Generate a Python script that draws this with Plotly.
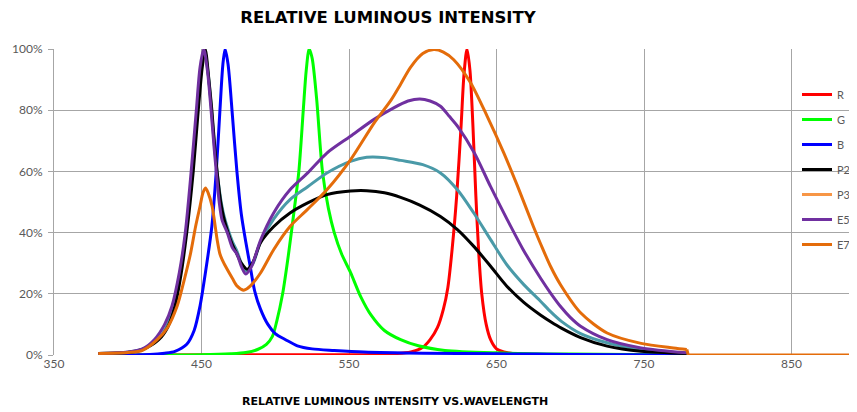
import plotly.graph_objects as go

# ---- data (wavelength nm, relative intensity %) ----
R_wl = [380, 560, 580, 592, 600, 605, 610, 614, 617, 620, 623, 626, 628, 630, 632, 634, 636, 638, 640, 643, 646, 650, 655, 665, 690, 780]
R_val = [0, 0.1, 0.4, 1, 2.5, 5, 9, 15, 22, 35, 52, 75, 92, 100, 93, 75, 52, 33, 20, 10, 5, 2, 1, 0.3, 0.1, 0]

G_wl = [380, 450, 470, 480, 488, 494, 498, 501, 505, 509, 513, 516, 519, 521, 523, 525, 528, 532, 536, 540, 545, 551, 558, 565, 574, 585, 597, 615, 650, 700, 780]
G_val = [0, 0.1, 0.4, 0.8, 1.8, 3.5, 6, 11, 20, 33, 48, 60, 80, 93, 100, 97, 84, 60, 48, 40, 33, 27, 19, 13, 8, 5, 3, 1.5, 0.7, 0.3, 0]

B_wl = [380, 415, 425, 432, 440, 445, 449, 453, 457, 460, 462.5, 464.5, 466, 468, 471, 474, 477, 480, 483, 486, 490, 495, 500, 507, 515, 525, 540, 560, 600, 650, 700, 780]
B_val = [0, 0.2, 0.6, 1.2, 3.5, 8, 16, 28, 42, 60, 80, 95, 100, 95, 78, 60, 46, 37, 29, 21, 15, 10, 7, 5, 3, 2, 1.5, 1, 0.6, 0.4, 0.2, 0]

P2_wl = [380, 400, 410, 421, 427, 432, 436, 440, 444.4, 447.8, 450.5, 452.5, 455, 457, 459, 461, 463, 465, 468, 471, 474, 477, 481, 485, 490, 499, 510, 522, 535, 551, 562, 574, 585, 598, 612, 623.5, 634.6, 646, 657, 668.5, 680, 687, 694, 707, 725, 748, 779]
P2_val = [0.5, 0.8, 1.8, 5, 9, 16, 26, 40, 60, 80, 94, 100, 90, 80, 68, 58, 50, 45, 40, 36, 33, 30, 28, 30.5, 36.7, 42, 46.4, 49.7, 52.4, 53.6, 53.7, 53, 51.5, 49, 45.3, 41, 35.5, 29, 22.5, 17.2, 13, 10.8, 8.8, 5.7, 2.9, 1.2, 0.5]

P3_wl = [None]
P3_val = [None]

TEAL_wl = [380, 400, 410, 420, 426, 431, 435.5, 439.5, 443.7, 447.2, 450, 452, 454.5, 456.8, 459, 461, 463, 465, 468, 471, 474, 477, 480.5, 485, 490, 499, 510, 522, 535, 551, 562, 574, 585, 600, 612, 623.5, 634.6, 646, 657, 668.5, 680, 687, 694, 707, 725, 748, 779]
TEAL_val = [0.5, 0.9, 1.9, 4.8, 9, 16, 27, 40, 60, 80, 94, 100, 92, 80, 67, 58, 51, 46, 41, 37, 34, 30, 27.5, 30, 37, 44.5, 50.8, 55, 59.5, 63.3, 64.6, 64.5, 63.6, 62.2, 59.5, 54, 46.4, 37.7, 29.5, 23, 17.5, 14, 11, 7, 4, 1.8, 0.6]

E5_wl = [380, 400, 410, 418, 425, 430, 435, 439, 443, 446.5, 449, 451.5, 454, 456.5, 458.5, 460, 462, 464, 467.5, 471, 474, 477, 480, 484, 490, 499, 510, 522, 535, 551, 567, 580, 590, 598, 605, 612, 618, 624, 635, 646, 657, 668, 680, 687, 694, 700, 707, 725, 748, 779]
E5_val = [0.5, 1, 2, 5, 10, 16, 27, 40, 60, 80, 94, 100, 93, 80, 68, 60, 50, 44, 40, 35, 33, 29, 26.5, 29, 37.5, 46.5, 54, 59.5, 66, 71.5, 77, 80.7, 83, 83.7, 83, 81.3, 78, 74.5, 66, 55, 44.5, 34.5, 25, 20, 15.5, 12.3, 9.4, 5, 2.3, 0.7]

E7_wl = [380, 400, 410, 420, 427, 433.5, 438, 442.5, 446, 449, 451, 452.7, 454.5, 457.2, 460.6, 462.5, 464, 467.4, 471, 474.2, 478.7, 483, 490, 499, 510, 521.7, 535, 551, 567, 578.6, 585, 591.7, 600, 607.5, 614, 621, 632.4, 643.7, 655, 664, 675, 680, 686.6, 693.6, 707, 725, 748, 770, 779]
E7_val = [0.5, 0.8, 1.5, 5, 9, 16, 24, 33, 42, 48.6, 53, 54.6, 53, 48.6, 37.7, 33, 31.2, 28, 25, 22.5, 21.2, 22.5, 26.8, 34.5, 42, 47.5, 54, 63.8, 75.8, 83.4, 88.5, 94, 98.5, 99.8, 99, 96.5, 89, 78, 66, 55.5, 42, 36.2, 29, 22.8, 13.8, 7.2, 3.8, 2.3, 1.8]
# E7 continues at zero past the end of the measured range
E7_tail_wl = [779, 780, 900]
E7_tail_val = [1.8, 0, 0]

x_ticks = [350, 450, 550, 650, 750, 850]
y_ticks = [0, 20, 40, 60, 80, 100]

series = [
    ("R", R_wl, R_val, "#FF0000", True, "spline"),
    ("G", G_wl, G_val, "#00FF00", True, "spline"),
    ("B", B_wl, B_val, "#0000FF", True, "spline"),
    ("", TEAL_wl, TEAL_val, "#4A9AA8", False, "spline"),
    ("P2", P2_wl, P2_val, "#000000", True, "spline"),
    ("P3", P3_wl, P3_val, "#F79646", True, "spline"),
    ("E5", E5_wl, E5_val, "#7030A0", True, "spline"),
    ("E7", E7_wl, E7_val, "#E46C0A", True, "spline"),
    ("E7 tail", E7_tail_wl, E7_tail_val, "#E46C0A", False, "linear"),
]

fig = go.Figure()
for name, xs, ys, col, show, shape in series:
    line = dict(color=col, width=3, shape=shape)
    if shape == "spline":
        line["smoothing"] = 0.8
    fig.add_trace(go.Scatter(
        x=xs, y=ys, name=name, mode="lines", showlegend=show,
        legendgroup=(name or "teal").split(" ")[0],
        line=line, hoverinfo="skip",
    ))

# The page body adds an 8px offset; figure is sized so it ends at the window edge.
W, H = 849, 404
L, T, B = 45.5, 41.3, 56.5
plot_w, plot_h = W - L, H - T - B
font_family = "Lato, 'Open Sans', sans-serif"
fig.update_layout(
    width=W, height=H,
    margin=dict(l=L, r=0, t=T, b=B, autoexpand=False),
    paper_bgcolor="white", plot_bgcolor="white",
    title=dict(text="<b>RELATIVE LUMINOUS INTENSITY</b>", x=380 / W, xanchor="center",
               xref="container", y=1 - 9.5 / H, yanchor="middle", yref="container",
               font=dict(family="'DejaVu Sans', sans-serif", size=16.5, color="#000000")),
    legend=dict(x=789 / W, xanchor="left", xref="container", y=1 - 72 / H, yanchor="top",
                yref="container", bgcolor="rgba(0,0,0,0)",
                font=dict(family=font_family, size=11, color="#595959"),
                tracegroupgap=6, itemwidth=30),
    font=dict(family=font_family, color="#595959"),
    annotations=[dict(text="<b>RELATIVE LUMINOUS INTENSITY VS.WAVELENGTH</b>",
                      xref="paper", yref="paper", x=(387 - L) / plot_w,
                      y=-(394 - (H - B)) / plot_h,
                      xanchor="center", yanchor="middle", showarrow=False,
                      font=dict(family="'DejaVu Sans', sans-serif", size=11, color="#000000"))],
)
fig.update_xaxes(
    range=[350, 894.4], tickvals=x_ticks, ticktext=[str(v) for v in x_ticks],
    showgrid=True, gridcolor="#A6A6A6", gridwidth=1, zeroline=False,
    showline=False, ticks="", tickfont=dict(size=12, color="#595959"),
)
fig.update_yaxes(
    range=[0, 100], tickvals=y_ticks, ticktext=[f"{v}%" for v in y_ticks],
    showgrid=True, gridcolor="#A6A6A6", gridwidth=1, zeroline=False,
    showline=True, linecolor="#A6A6A6", linewidth=1,
    ticks="outside", ticklen=5, tickcolor="#A6A6A6", ticklabelstandoff=3,
    tickfont=dict(size=12, color="#595959"),
)
fig.write_html("out.html")
